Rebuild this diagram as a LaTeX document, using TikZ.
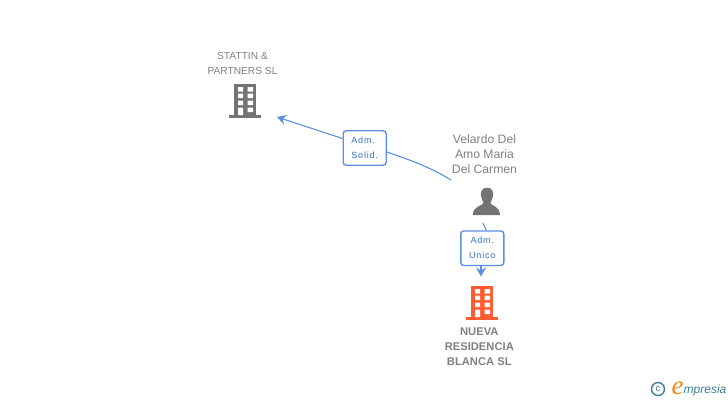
\documentclass[tikz,border=0pt]{standalone}
\usepackage{fontspec}
\setmainfont{Liberation Sans}
\newfontfamily\lblfont[LetterSpace=9]{Liberation Sans}
\newfontfamily\logofont{Liberation Serif}
\usetikzlibrary{arrows.meta}
\usetikzlibrary{positioning}
\definecolor{grayico}{HTML}{737373}
\definecolor{graytxt}{HTML}{808080}
\definecolor{orangeico}{HTML}{FF5A30}
\definecolor{bluelink}{HTML}{5A90E4}
\definecolor{bluetxt}{HTML}{2F6FD0}
\definecolor{tealogo}{HTML}{3D7F97}
\definecolor{orangelogo}{HTML}{F08A1D}
\tikzstyle{nametext} = [text=graytxt, align=center, font=\fontsize{10.2}{15}\selectfont, inner sep=0pt]
\tikzstyle{rolebox} = [rectangle, rounded corners=3pt, draw=bluelink, line width=1.4pt, fill=white, text=bluetxt, minimum width=43pt, minimum height=34.5pt, inner sep=0pt, font=\lblfont\fontsize{9}{15}\selectfont]
\tikzstyle{link} = [draw=bluelink, line width=1.1pt]
\tikzstyle{tip} = [-{Stealth[length=9pt,width=10pt,inset=3pt]}]
\tikzset{
  pics/building/.style={code={
    \fill[#1] (-11,-17) rectangle (11,16);
    \fill[#1] (-16,14) rectangle (16,17);
    \fill[white] (-7,-14) rectangle (-2,-9.5) (2.5,-14) rectangle (8,-9.5);
    \fill[white] (-7,-7.5) rectangle (-2,-3) (2.5,-7.5) rectangle (8,-3);
    \fill[white] (-7,-0.5) rectangle (-2,4) (2.5,-0.5) rectangle (8,4);
    \fill[white] (-7,6.5) rectangle (-2,14) (2.5,6.5) rectangle (8,11);
  }}
}
\begin{document}
\begin{tikzpicture}[x=1pt,y=-1pt]
 \useasboundingbox (0,0) rectangle (728,400);

 % companies
 \pic at (245,101) {building=grayico};
 \pic at (482,303) {building=orangeico};
 \node (stattin) [nametext] at (242.5,63) {STATTIN \&\\PARTNERS SL};
 \node (nueva) [nametext, font=\fontsize{11.2}{15}\selectfont\bfseries] at (479.3,347) {NUEVA\\RESIDENCIA\\BLANCA SL};

 % person
 \node (velardo) [nametext, font=\fontsize{12.2}{15}\selectfont] at (484.5,154) {Velardo Del\\Amo Maria\\Del Carmen};
 \fill[grayico] (487,187.7) .. controls (481.5,187.7) and (480.5,192) .. (481,196)
   .. controls (481.3,199) and (483,201) .. (483.5,203)
   .. controls (483,206) and (473,205.5) .. (472.7,215) -- (500,215)
   .. controls (499.7,205.5) and (491,206) .. (490.5,203)
   .. controls (491,201) and (492.7,199) .. (493,196)
   .. controls (493.5,192) and (492.5,187.7) .. (487,187.7) -- cycle;

 % free ends of the links
 \coordinate (fromvelardo) at (451,180);
 \coordinate (tostattin) at (277,117);
 \coordinate (belowvelardo) at (483,223);
 \coordinate (tonueva) at (481,276.5);

 \node (solid) [rolebox, align=left] at (364.7,148) {Adm.\\Solid.};
 \node (unico) [rolebox, align=center] at (482.3,248.2) {Adm.\hspace{4pt}\\Unico};

 \draw[link] (fromvelardo) .. controls (430,167) and (410,160) .. ([yshift=-4pt]solid.east);
 \draw[link,tip] ([yshift=9.5pt]solid.west) -- (tostattin);
 \draw[link] (belowvelardo) -- ([xshift=4pt]unico.north);
 \draw[link,tip] ([xshift=-1.3pt]unico.south) -- (tonueva);

 % logo
 \node (copyr) [circle, draw=tealogo, line width=1.4pt, text=tealogo, minimum size=13pt, inner sep=0pt, font=\fontsize{9.5}{9.5}\selectfont] at (658,389) {c};
 \node (logoe) [text=orangelogo, inner sep=0pt, font=\logofont\fontsize{27}{27}\selectfont\itshape] at (677.5,388) {e};
 \node (logotxt) [text=tealogo, inner sep=0pt, anchor=west, font=\fontsize{12}{12}\selectfont\itshape] at (683.5,390) {mpresia};
\end{tikzpicture}
\end{document}
